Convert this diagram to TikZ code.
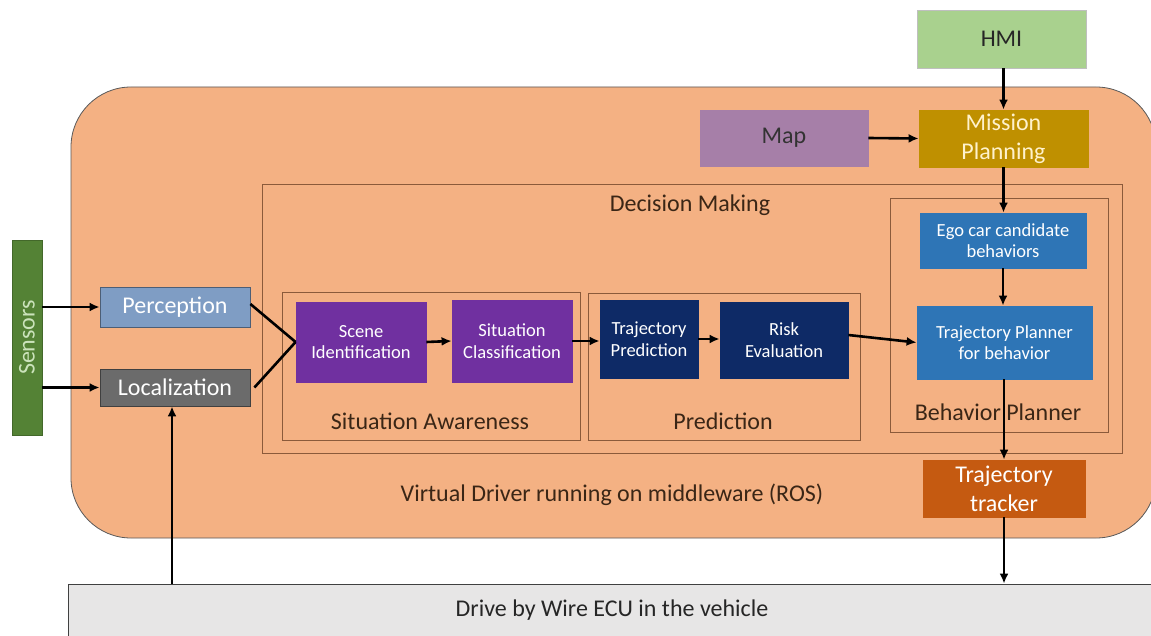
\documentclass[tikz,border=0pt]{standalone}
\usepackage{fontspec}
\setmainfont{Carlito}
\usetikzlibrary{arrows.meta}
\definecolor{orangeF}{HTML}{F4B183}
\definecolor{contB}{HTML}{8B5A3A}
\definecolor{percF}{HTML}{7F9DC4}
\definecolor{locF}{HTML}{6B6B6B}
\definecolor{purpF}{HTML}{7030A0}
\definecolor{navyF}{HTML}{0E2A66}
\definecolor{blueF}{HTML}{2E75B6}
\definecolor{mapF}{HTML}{A67FA8}
\definecolor{missF}{HTML}{BF9000}
\definecolor{hmiF}{HTML}{A9D18E}
\definecolor{trkF}{HTML}{C55A11}
\definecolor{sensF}{HTML}{548235}
\definecolor{dbwF}{HTML}{E7E6E6}
\definecolor{labC}{HTML}{3A2616}
\definecolor{mpText}{HTML}{FFF2CC}
\tikzset{
  box/.style={draw=#1, line width=0.8pt, inner sep=0pt, align=center},
  box/.default=black!60,
  bigtxt/.style={font=\fontsize{24}{29}\selectfont},
  smalltxt/.style={font=\fontsize{18.5}{21.5}\selectfont},
  cont/.style={draw=contB, line width=0.8pt, inner sep=0pt},
  lab/.style={text=labC, font=\fontsize{24}{29}\selectfont, inner sep=0pt},
  arr/.style={line width=2.6pt, -{Latex[length=10pt,width=9pt]}},
  conn/.style={line width=2.6pt}
}
\begin{document}
\begin{tikzpicture}[x=1pt,y=-1pt]
\useasboundingbox (0,0) rectangle (1151,636);
\clip (0,0) rectangle (1151,636);
\fill[white] (0,0) rectangle (1151,636);
% main rounded area
\draw[fill=orangeF, draw=black!65, line width=0.8pt, rounded corners=60pt] (71,87) rectangle (1156,538);
% containers
\node[cont, minimum width=860pt, minimum height=269pt] (dm) at (692,318.5) {};
\node[lab] (dmlab) at (690,205) {Decision Making};
\node[cont, minimum width=298pt, minimum height=148pt] (sa) at (431,366) {};
\node[lab] (salab) at (430,421) {Situation Awareness};
\node[cont, minimum width=272pt, minimum height=147pt] (pr) at (724,366.5) {};
\node[lab] (prlab) at (723,421) {Prediction};
\node[cont, minimum width=218pt, minimum height=234pt] (bp) at (999,315) {};
\node[lab] (bplab) at (998,412) {Behavior Planner};
\node[lab] (vdlab) at (612,495) {Virtual Driver running on middleware (ROS)};
% boxes
\node[box=sensF!80!black, fill=sensF, minimum width=30pt, minimum height=195pt] (sens) at (27,337.5) {};
\node[text=hmiF!60!white, bigtxt, rotate=90] (senslab) at (sens.center) {Sensors};
\node[box=percF!60!black, fill=percF, text=white, bigtxt, minimum width=150pt, minimum height=40pt] (perc) at (175,307) {Perception};
\node[box=locF!60!black, fill=locF, text=white, bigtxt, minimum width=150pt, minimum height=37pt] (loc) at (175,387.5) {Localization};
\node[box=purpF, fill=purpF, text=white, smalltxt, minimum width=130pt, minimum height=80pt] (scene) at (361,342) {Scene\\Identification};
\node[box=purpF, fill=purpF, text=white, smalltxt, minimum width=120pt, minimum height=82pt] (sitc) at (512,341) {Situation\\Classification};
\node[box=navyF, fill=navyF, text=white, smalltxt, minimum width=98pt, minimum height=78pt] (tpred) at (649,339) {Trajectory\\Prediction};
\node[box=navyF, fill=navyF, text=white, smalltxt, minimum width=128pt, minimum height=76pt] (risk) at (784,340) {Risk\\Evaluation};
\node[box=blueF, fill=blueF, text=white, smalltxt, minimum width=166pt, minimum height=55pt] (ego) at (1003,240.5) {Ego car candidate\\behaviors};
\node[box=blueF, fill=blueF, text=white, smalltxt, minimum width=175pt, minimum height=73pt] (tpb) at (1004.5,342.5) {Trajectory Planner\\for behavior};
\node[box=mapF, fill=mapF, text=black!80, bigtxt, minimum width=168pt, minimum height=56pt] (map) at (784,138) {Map};
\node[box=missF, fill=missF, text=mpText, bigtxt, minimum width=169pt, minimum height=57pt] (miss) at (1003.5,138.5) {Mission\\Planning};
\node[box=black!25, fill=hmiF, text=black!85, bigtxt, minimum width=169pt, minimum height=58pt] (hmi) at (1001.5,39) {HMI};
\node[box=trkF, fill=trkF, text=white, bigtxt, minimum width=162pt, minimum height=57pt] (trk) at (1004,488.5) {Trajectory\\tracker};
\node[box=black!75, fill=dbwF, text=black!85, bigtxt, minimum width=1092pt, minimum height=56pt] (dbw) at (614,612) {};
\node[lab, text=black!85] (dbwlab) at (612,610) {Drive by Wire ECU in the vehicle};
% connectors
\draw[arr] (sens.east |- perc.west) -- (perc.west);
\draw[arr] (sens.east |- loc.west) -- (loc.west);
\draw[conn] ([yshift=3pt]perc.east) -- (scene.west);
\draw[conn] ([xshift=4pt]loc.east) -- (scene.west);
\draw[arr] (scene.east) -- (sitc.east -| sitc.west);
\draw[arr] (sitc.east) -- (tpred.west |- sitc.east);
\draw[arr] (tpred.east) -- (risk.west |- tpred.east);
\draw[arr] ([yshift=5pt]risk.east) -- (tpb.west);
\draw[arr] (hmi.south -| miss.north) -- (miss.north);
\draw[arr] (map.east) -- (miss.west);
\draw[arr] (miss.south) -- (ego.north -| miss.south);
\draw[arr] (ego.south) -- (tpb.north -| ego.south);
\draw[arr] (tpb.south -| trk.north) -- (trk.north);
\draw[arr] (trk.south) -- (trk.south |- dbw.north);
\draw[arr] ([xshift=-3pt]loc.south |- dbw.north) -- ([xshift=-3pt]loc.south);
\end{tikzpicture}
\end{document}
